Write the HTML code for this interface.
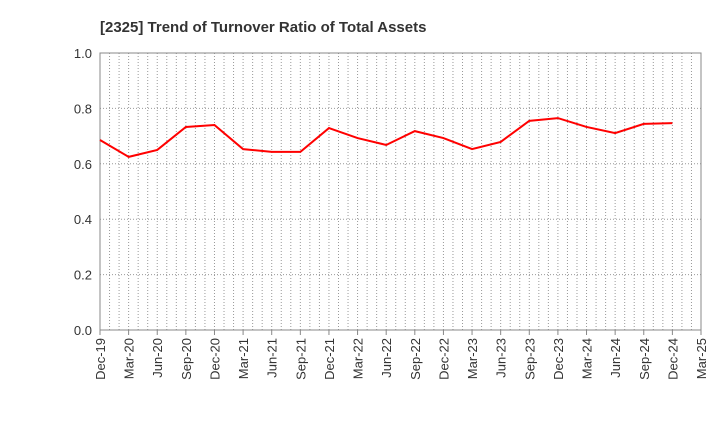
<!DOCTYPE html>
<html><head><meta charset="utf-8"><style>
body{margin:0;background:#fff;font-family:"Liberation Sans",sans-serif}
</style></head><body>
<svg id="chart" width="720" height="440" xmlns="http://www.w3.org/2000/svg">
<text x="100" y="32" font-size="15" font-weight="bold" fill="#333">[2325]  Trend of Turnover Ratio of Total Assets</text>
<g id="grid"></g><g id="axes"></g><g id="series"></g>
</svg>
<script>
const categories=["Dec-19","Mar-20","Jun-20","Sep-20","Dec-20","Mar-21","Jun-21","Sep-21","Dec-21","Mar-22","Jun-22","Sep-22","Dec-22","Mar-23","Jun-23","Sep-23","Dec-23","Mar-24","Jun-24","Sep-24","Dec-24","Mar-25"];
const values=[0.686,0.625,0.65,0.733,0.74,0.653,0.643,0.643,0.729,0.693,0.668,0.718,0.693,0.653,0.679,0.755,0.765,0.733,0.711,0.744,0.747];
const yTicks=[0,0.2,0.4,0.6,0.8,1.0];
const NS="http://www.w3.org/2000/svg";
const L=100,R=701,T=53,B=330;
const x=i=>L+(R-L)*i/(categories.length-1);
const y=v=>B-(B-T)*v/1.0;
function mk(tag,attrs,parent){const e=document.createElementNS(NS,tag);for(const k in attrs)e.setAttribute(k,attrs[k]);parent.appendChild(e);return e;}
const grid=document.getElementById('grid'),axes=document.getElementById('axes'),series=document.getElementById('series');
const nMonths=(categories.length-1)*3;
for(let m=1;m<nMonths;m++){const xx=L+(R-L)*m/nMonths;
const g=mk('line',{x1:xx,x2:xx,y1:T,y2:B,stroke:'#999','stroke-width':1,'stroke-dasharray':'1,2'},grid);

}
yTicks.forEach(t=>{
if(t>0&&t<1){const g=mk('line',{x1:L,x2:R,y1:y(t),y2:y(t),stroke:'#999','stroke-width':1,'stroke-dasharray':'1,2'},grid);

}
const tx=mk('text',{x:L-8,y:y(t)+5,'text-anchor':'end','font-size':13,fill:'#333'},axes);tx.textContent=t.toFixed(1);


});
const box=mk('rect',{x:L,y:T,width:R-L,height:B-T,fill:'none',stroke:'#888','stroke-width':1},axes);


categories.forEach((c,i)=>{
const tk=mk('line',{x1:x(i),x2:x(i),y1:B,y2:B+5,stroke:'#888'},axes);


const tx=mk('text',{x:0,y:0,'text-anchor':'end','font-size':13,fill:'#333',transform:`translate(${x(i)+5},${B+8}) rotate(-90)`},axes);tx.textContent=c;


});
const pl=mk('polyline',{points:values.map((v,i)=>x(i)+','+y(v)).join(' '),fill:'none',stroke:'#ff0000','stroke-width':2},series);


</script>
</body></html>
